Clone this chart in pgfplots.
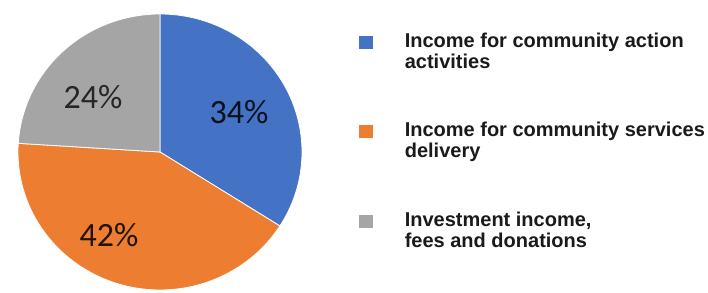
\documentclass[border=0pt]{standalone}
\usepackage{fontspec}
\setmainfont{Liberation Sans}
\newfontfamily\carlito{Carlito}
\usepackage{pgfplots}
\pgfplotsset{compat=1.18}
\definecolor{cblue}{HTML}{4472C4}
\definecolor{corange}{HTML}{ED7D31}
\definecolor{cgray}{HTML}{A5A5A5}
\definecolor{ltext}{HTML}{1A1A1A}
\begin{document}
\begin{tikzpicture}
\begin{axis}[
  scale only axis, width=354pt, height=146.5pt,
  xmin=0, xmax=708, ymin=0, ymax=293, y dir=reverse,
  hide axis, clip=false,
  legend image code/.code={\fill[#1] (0pt,1.5pt) rectangle (7.5pt,8.5pt);},
  legend cell align=left,
  legend style={at={(axis cs:358,33)}, anchor=north west, draw=none, fill=none,
    inner sep=0pt, outer sep=0pt, row sep=25.5pt, column sep=15.5pt,
    nodes={align=left, inner sep=0pt, text=ltext,
      font=\bfseries\fontsize{10}{10.5}\selectfont}},
]
\path (rel axis cs:0,0) rectangle (rel axis cs:1,1);
% slices: 34, 42, 24 percent, clockwise from 12 o'clock
\addplot[fill=cblue, draw=white, line width=0.4pt, domain={90-3.6*34}:90, samples=90]
  ({160+142*cos(x)},{152-138*sin(x)}) -- (axis cs:160,152) -- cycle;
\addlegendentry{Income for community action\\activities}
\addplot[fill=corange, draw=white, line width=0.4pt, domain={90-3.6*(34+42)}:{90-3.6*34}, samples=90]
  ({160+142*cos(x)},{152-138*sin(x)}) -- (axis cs:160,152) -- cycle;
\addlegendentry{Income for community services\\delivery}
\addplot[fill=cgray, draw=white, line width=0.4pt, domain={90-3.6*(34+42+24)}:{90-3.6*(34+42)}, samples=90]
  ({160+142*cos(x)},{152-138*sin(x)}) -- (axis cs:160,152) -- cycle;
\addlegendentry{Investment income,\\fees and donations}
\node[font=\carlito\fontsize{17}{20}\selectfont, text=black!85!cblue] at (axis cs:239,112) {34\%};
\node[font=\carlito\fontsize{17}{20}\selectfont, text=black!85!corange] at (axis cs:109,235) {42\%};
\node[font=\carlito\fontsize{17}{20}\selectfont, text=black!85] at (axis cs:93,97) {24\%};
\end{axis}
\end{tikzpicture}
\end{document}
